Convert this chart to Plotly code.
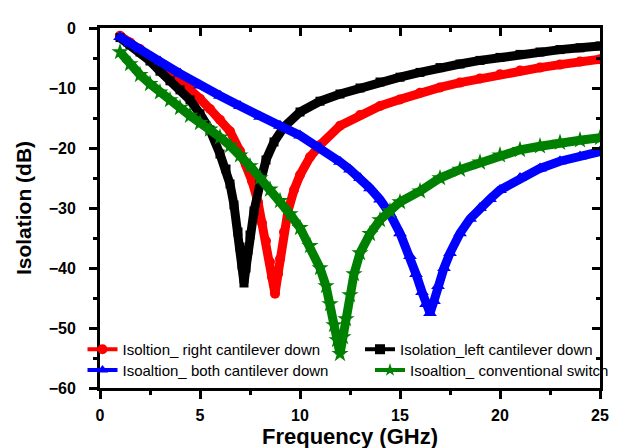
import plotly.graph_objects as go

# ---- data ----
right_x = [1.0, 1.5, 2.0, 2.5, 3.0, 3.5, 4.0, 4.5, 5.0, 5.5, 6.0, 6.5, 7.0, 7.3, 7.6, 7.9, 8.1, 8.3, 8.5, 8.6, 8.75,
           8.9, 9.0, 9.2, 9.4, 9.7, 10.0, 10.5, 11.0, 12.0, 13.0, 14.0, 15.0, 16.0, 17.0, 18.0, 19.0, 20.0, 21.0,
           22.0, 23.0, 24.0, 25.0]
right_y = [-1.3, -2.4, -3.5, -4.7, -6.0, -7.3, -8.7, -10.2, -11.8, -13.5, -15.3, -17.2, -20.5, -22.8, -25.5, -29.0,
           -32.5, -35.5, -39.0, -41.5, -44.3, -41.0, -38.5, -34.0, -30.5, -27.0, -24.5, -21.5, -19.5, -16.3, -14.5,
           -13.0, -11.9, -10.8, -9.9, -9.1, -8.4, -7.7, -7.1, -6.6, -6.1, -5.6, -5.2]

left_x = [1.0, 1.5, 2.0, 2.5, 3.0, 3.5, 4.0, 4.5, 5.0, 5.5, 6.0, 6.3, 6.5, 6.7, 6.9, 7.0, 7.1, 7.2, 7.3, 7.4, 7.5,
          7.7, 8.0, 8.3, 8.7, 9.2, 10.0, 11.0, 12.0, 13.0, 14.0, 15.0, 16.0, 17.0, 18.0, 19.0, 20.0, 21.0, 22.0,
          23.0, 24.0, 25.0]
left_y = [-1.6, -2.8, -4.0, -5.5, -7.2, -8.8, -10.3, -12.0, -14.3, -17.0, -21.0, -23.5, -26.0, -29.5, -34.0, -36.5,
          -39.5, -42.5, -40.0, -37.0, -34.5, -30.5, -26.0, -22.0, -19.0, -16.5, -14.0, -12.2, -11.0, -10.0, -9.0,
          -8.2, -7.4, -6.6, -6.0, -5.4, -4.9, -4.4, -4.0, -3.6, -3.3, -3.0]

both_x = [1.0, 1.5, 2.0, 3.0, 4.0, 5.0, 6.0, 7.0, 8.0, 9.0, 10.0, 11.0, 12.0, 12.5, 13.0, 13.5, 14.0, 14.5, 15.0,
          15.5, 15.8, 16.1, 16.3, 16.5, 16.7, 16.9, 17.2, 17.5, 18.0, 18.5, 19.0, 19.5, 20.0, 21.0, 22.0, 23.0,
          24.0, 25.0]
both_y = [-1.5, -2.6, -3.6, -5.6, -7.6, -9.6, -11.3, -13.0, -14.8, -16.3, -17.9, -19.9, -22.3, -23.6, -25.0, -26.7,
          -28.6, -31.0, -34.2, -38.0, -41.0, -44.0, -46.0, -47.5, -45.5, -43.0, -40.0, -37.5, -34.2, -31.8, -30.0,
          -28.5, -27.0, -25.0, -23.4, -22.2, -21.4, -20.6]

conv_x = [1.0, 1.5, 2.0, 2.5, 3.0, 3.5, 4.0, 4.5, 5.0, 5.5, 6.0, 6.5, 7.0, 7.5, 8.0, 8.5, 9.0, 9.5, 10.0, 10.5,
          11.0, 11.3, 11.5, 11.7, 11.85, 12.0, 12.15, 12.3, 12.5, 12.7, 13.0, 13.5, 14.0, 14.5, 15.0, 16.0, 17.0,
          18.0, 19.0, 20.0, 21.0, 22.0, 23.0, 24.0, 25.0]
conv_y = [-4.0, -6.0, -7.8, -9.3, -10.7, -12.0, -13.3, -14.6, -15.8, -16.9, -18.2, -19.6, -21.2, -23.0, -25.0, -26.9,
          -28.8, -31.0, -33.3, -36.3, -40.0, -43.0, -46.0, -49.5, -52.0, -54.3, -51.5, -48.5, -44.5, -41.0, -37.5,
          -34.3, -32.0, -30.5, -29.0, -27.2, -25.0, -23.6, -22.4, -21.2, -20.3, -19.7, -19.1, -18.7, -18.3]

names = ["Isoltion_ right cantilever down", "Isolation_left cantilever down",
         "Isoaltion_ both cantilever down", "Isoaltion_ conventional switch"]

x_ticks = [0, 5, 10, 15, 20, 25]
y_ticks = [0, -10, -20, -30, -40, -50, -60]

FONT = "Liberation Sans, Arial, sans-serif"

series = [
    (right_x, right_y, names[0], "#FF0000", "circle", 10, "legend"),
    (left_x, left_y, names[1], "#000000", "square", 9, "legend3"),
    (both_x, both_y, names[2], "#0000FF", "triangle-up", 12, "legend2"),
    (conv_x, conv_y, names[3], "#008000", "star", 13, "legend4"),
]

fig = go.Figure()
for xs, ys, nm, col, sym, ms, lg in series:
    fig.add_trace(go.Scatter(x=xs, y=ys, mode="lines+markers", name=nm, showlegend=False,
                             line=dict(color=col, width=9),
                             marker=dict(color=col, symbol=sym, size=ms, line=dict(width=0))))
for xs, ys, nm, col, sym, ms, lg in series:
    fig.add_trace(go.Scatter(x=[None], y=[None], mode="lines+markers", name=nm, legend=lg,
                             line=dict(color=col, width=4),
                             marker=dict(color=col, symbol=sym, size=10, line=dict(width=0))))
# helper trace for the mirrored (inward-ticked) top/right axes
fig.add_trace(go.Scatter(x=[None], y=[None], xaxis="x2", yaxis="y2", showlegend=False, hoverinfo="skip"))

tickfont = dict(family=FONT, size=16, color="black", weight="bold")
common = dict(showgrid=False, zeroline=False, showline=True, linecolor="black", linewidth=3)

fig.update_layout(
    width=644, height=448,
    margin=dict(l=92, r=52, t=20, b=62),
    paper_bgcolor="white", plot_bgcolor="white",
    font=dict(family=FONT, color="black"),
    xaxis=dict(range=[0, 25], tickvals=x_ticks, ticks="outside", ticklen=8, tickwidth=2.5, tickcolor="black",
               minor=dict(dtick=2.5, tick0=0, ticks="outside", ticklen=4, tickwidth=2.5, tickcolor="black"),
               tickfont=tickfont, ticklabelstandoff=3,
               title=dict(text="Frequency (GHz)", font=dict(family=FONT, size=22, weight="bold"), standoff=4),
               **common),
    yaxis=dict(range=[-60, 0], tickvals=y_ticks, ticks="outside", ticklen=8, tickwidth=2.5, tickcolor="black",
               minor=dict(dtick=5, tick0=0, ticks="outside", ticklen=4, tickwidth=2.5, tickcolor="black"),
               tickfont=tickfont, ticklabelstandoff=10,
               title=dict(text="Isolation (dB)", font=dict(family=FONT, size=21, weight="bold"), standoff=12),
               **common),
    xaxis2=dict(range=[0, 25], overlaying="x", side="top", anchor="y", tickvals=x_ticks, ticks="inside",
                ticklen=8, tickwidth=2.5, tickcolor="black", showticklabels=False,
                minor=dict(dtick=2.5, tick0=0, ticks="inside", ticklen=4, tickwidth=2.5, tickcolor="black"),
                **common),
    yaxis2=dict(range=[-60, 0], overlaying="y", side="right", anchor="x", tickvals=y_ticks, ticks="inside",
                ticklen=8, tickwidth=2.5, tickcolor="black", showticklabels=False,
                minor=dict(dtick=5, tick0=0, ticks="inside", ticklen=4, tickwidth=2.5, tickcolor="black"),
                **common),
)

leg_common = dict(bgcolor="rgba(0,0,0,0)", borderwidth=0, xanchor="left", yanchor="middle",
                  font=dict(family=FONT, size=15, color="black"), tracegroupgap=0)
fig.update_layout(
    legend=dict(x=-0.035, y=0.107, **leg_common),
    legend2=dict(x=-0.035, y=0.049, **leg_common),
    legend3=dict(x=0.52, y=0.107, **leg_common),
    legend4=dict(x=0.54, y=0.049, **leg_common),
)

fig.write_html("out.html")
